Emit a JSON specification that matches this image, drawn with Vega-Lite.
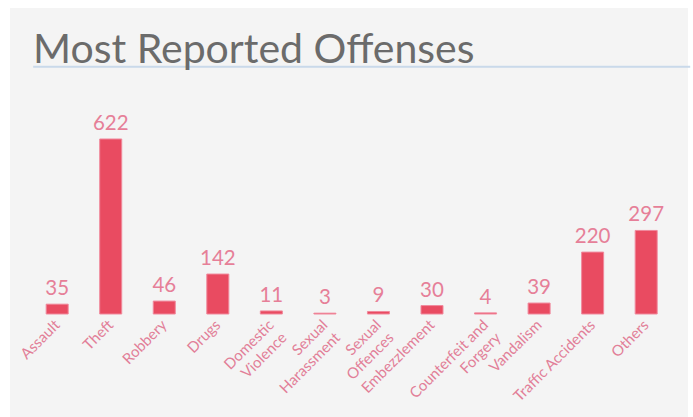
{
  "$schema": "https://vega.github.io/schema/vega-lite/v6.json",
  "autosize": "none",
  "width": 678,
  "height": 409,
  "padding": {"left": 10, "top": 8, "right": 5, "bottom": 0},
  "background": "#ffffff",
  "view": {"fill": "#f4f4f4", "stroke": null},
  "title": {
    "text": "Most Reported Offenses",
    "anchor": "start",
    "font": "Lato",
    "fontSize": 41,
    "fontWeight": "normal",
    "color": "#6b6b6b",
    "baseline": "alphabetic",
    "offset": -96,
    "dx": 23
  },
  "datasets": {
    "offenses": [
      {"offense": "Assault", "count": 35},
      {"offense": "Theft", "count": 622},
      {"offense": "Robbery", "count": 46},
      {"offense": "Drugs", "count": 142},
      {"offense": "Domestic Violence", "count": 11},
      {"offense": "Sexual Harassment", "count": 3},
      {"offense": "Sexual Offences", "count": 9},
      {"offense": "Embezzlement", "count": 30},
      {"offense": "Counterfeit and Forgery", "count": 4},
      {"offense": "Vandalism", "count": 39},
      {"offense": "Traffic Accidents", "count": 220},
      {"offense": "Others", "count": 297}
    ],
    "underline": [
      {"from": "Assault", "to": "Others", "level": 878.8}
    ]
  },
  "layer": [
    {
      "data": {"name": "offenses"},
      "mark": {"type": "bar", "color": "#e94b61", "stroke": "#f0899c", "strokeWidth": 1},
      "encoding": {
        "x": {
          "field": "offense",
          "type": "nominal",
          "sort": null,
          "scale": {
            "domain": ["Assault", "Theft", "Robbery", "Drugs", "Domestic Violence", "Sexual Harassment", "Sexual Offences", "Embezzlement", "Counterfeit and Forgery", "Vandalism", "Traffic Accidents", "Others"],
            "paddingInner": 0.589,
            "paddingOuter": 0.6255,
            "align": 0.54
          },
          "axis": {
            "orient": "bottom",
            "offset": -103,
            "title": null,
            "domain": false,
            "ticks": false,
            "labelAngle": -45,
            "labelAlign": "right",
            "labelBaseline": "middle",
            "labelPadding": 8,
            "labelFont": "Lato",
            "labelFontSize": 15,
            "labelColor": "#e27f98",
            "labelLineHeight": 18,
            "labelLimit": 300,
            "labelOverlap": false,
            "labelExpr": "datum.label == 'Domestic Violence' ? ['Domestic','Violence'] : datum.label == 'Sexual Harassment' ? ['Sexual','Harassment'] : datum.label == 'Sexual Offences' ? ['Sexual','Offences'] : datum.label == 'Counterfeit and Forgery' ? ['Counterfeit and','Forgery'] : datum.label"
          }
        },
        "y": {
          "field": "count",
          "type": "quantitative",
          "scale": {"domain": [-366, 1087.5], "nice": false, "zero": false},
          "axis": null
        }
      }
    },
    {
      "data": {"name": "offenses"},
      "mark": {"type": "text", "baseline": "alphabetic", "dy": -9, "font": "Lato", "fontSize": 20.5, "color": "#e67f98"},
      "encoding": {
        "x": {"field": "offense", "type": "nominal", "sort": null},
        "y": {"field": "count", "type": "quantitative"},
        "text": {"field": "count", "type": "quantitative"}
      }
    },
    {
      "data": {"name": "underline"},
      "mark": {"type": "rule", "color": "#c9d9ea", "strokeWidth": 2, "xOffset": -13, "x2Offset": 33},
      "encoding": {
        "x": {"field": "from", "type": "nominal", "bandPosition": 0},
        "x2": {"field": "to", "bandPosition": 1},
        "y": {"field": "level", "type": "quantitative"}
      }
    }
  ]
}
